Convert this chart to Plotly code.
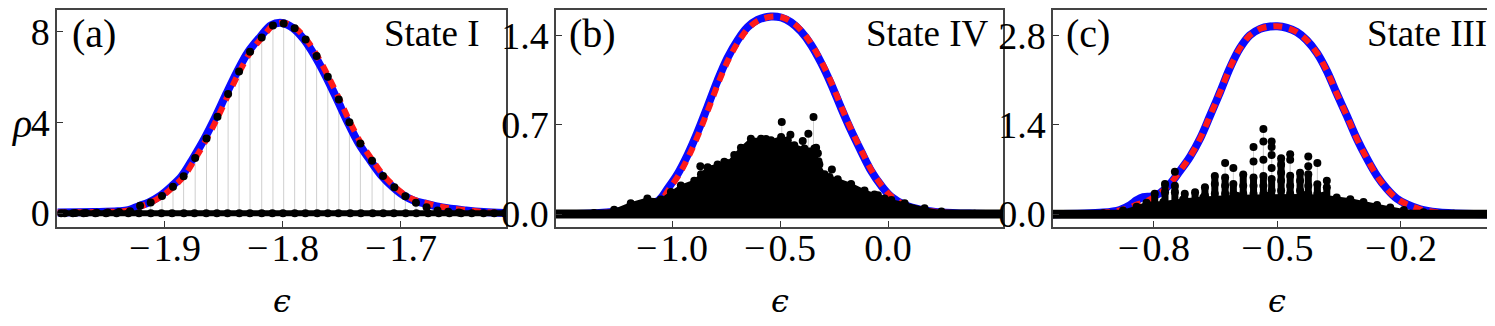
import plotly.graph_objects as go

# ---------------- panel (a) : State I ----------------
a_curve_x = [-1.991, -1.96, -1.94, -1.9311, -1.9226, -1.9136, -1.904, -1.8947, -1.8857, -1.8759, -1.8663,
             -1.857, -1.848, -1.8387, -1.8294, -1.8195, -1.81, -1.8009, -1.7916, -1.7823, -1.773, -1.7635,
             -1.7542, -1.7452, -1.7359, -1.726, -1.7167, -1.7071, -1.6978, -1.6888, -1.679, -1.665,
             -1.645, -1.63, -1.612]
a_curve_y = [0.03, 0.05, 0.08, 0.13, 0.3, 0.48, 0.77, 1.17, 1.64, 2.44, 3.3, 4.25, 5.25, 6.24, 7.1, 7.74,
             8.27, 8.37, 8.15, 7.65, 6.92, 6.01, 5.01, 4.01, 3.08, 2.32, 1.66, 1.16, 0.78, 0.55, 0.42,
             0.25, 0.12, 0.05, 0.01]
a_red_x = [-1.991, -1.958, -1.938, -1.9291, -1.9206, -1.9116, -1.902, -1.8927, -1.8837, -1.8739,
           -1.8643, -1.855, -1.846, -1.8367, -1.8274, -1.8175, -1.808, -1.7989, -1.7896, -1.7803,
           -1.771, -1.7615, -1.7522, -1.7432, -1.7339, -1.724, -1.7147, -1.7051, -1.6958, -1.6868,
           -1.677, -1.663, -1.643, -1.628, -1.612]
a_red_y = a_curve_y
a_dot_x = [-1.985, -1.976, -1.967, -1.9577, -1.9484, -1.9389, -1.9296, -1.9211, -1.9121, -1.9025, -1.8932,
           -1.8842, -1.8744, -1.8648, -1.8555, -1.8465, -1.8372, -1.8279, -1.818, -1.8085, -1.7994,
           -1.7901, -1.7808, -1.7715, -1.762, -1.7527, -1.7437, -1.7344, -1.7245, -1.7152, -1.7056,
           -1.6963, -1.6873, -1.6783, -1.669, -1.66, -1.651]
a_dot_y = [0.0, 0.01, 0.01, 0.02, 0.03, 0.05, 0.08, 0.33, 0.47, 0.76, 1.16, 1.63, 2.43, 3.29, 4.24, 5.24,
           6.23, 7.1, 7.73, 8.26, 8.34, 8.14, 7.64, 6.91, 6.0, 5.0, 4.0, 3.07, 2.31, 1.64, 1.14, 0.74,
           0.46, 0.26, 0.12, 0.06, 0.03]
a_zero_x = [-1.988, -1.978, -1.969, -1.959, -1.95, -1.941, -1.931, -1.922, -1.912, -1.903, -1.894,
            -1.884, -1.875, -1.865, -1.856, -1.847, -1.837, -1.828, -1.818, -1.809, -1.8, -1.79,
            -1.781, -1.771, -1.762, -1.753, -1.743, -1.734, -1.724, -1.715, -1.706, -1.696, -1.687,
            -1.677, -1.668, -1.659, -1.649, -1.64, -1.63, -1.621, -1.612]
a_range = [-1.99, -1.612]

# ---------------- panel (b) : State IV ----------------
b_curve_x = [-1.537, -1.376, -1.253, -1.145, -1.06, -1.021, -0.975, -0.928, -0.882, -0.835, -0.789,
             -0.743, -0.696, -0.65, -0.604, -0.542, -0.495, -0.449, -0.403, -0.356, -0.31, -0.264,
             -0.217, -0.171, -0.124, -0.078, -0.032, 0.015, 0.077, 0.154, 0.247, 0.401, 0.532]
b_curve_y = [0.0, 0.005, 0.02, 0.053, 0.109, 0.197, 0.311, 0.463, 0.64, 0.843, 1.046, 1.223, 1.362,
             1.463, 1.52, 1.547, 1.539, 1.501, 1.43, 1.324, 1.185, 1.02, 0.83, 0.653, 0.489, 0.337,
             0.223, 0.134, 0.071, 0.033, 0.013, 0.003, 0.0]
b_red_x = [-1.537, -1.37, -1.245, -1.136, -1.052, -1.013, -0.967, -0.92, -0.874, -0.827, -0.781,
           -0.735, -0.688, -0.642, -0.596, -0.534, -0.488, -0.443, -0.398, -0.352, -0.306, -0.26,
           -0.214, -0.168, -0.121, -0.075, -0.029, 0.018, 0.08, 0.157, 0.25, 0.404, 0.532]
b_red_y = b_curve_y
b_mass_x = [-1.534, -1.361, -1.268, -1.191, -1.114, -1.052, -1.005, -0.959, -0.897, -0.866, -0.835,
            -0.789, -0.743, -0.712, -0.681, -0.635, -0.588, -0.542, -0.495, -0.464, -0.434, -0.387,
            -0.341, -0.318, -0.294, -0.233, -0.171, -0.109, -0.047, 0.015, 0.077, 0.169, 0.247,
            0.401, 0.532]
b_mass_y = [0.0, 0.008, 0.033, 0.084, 0.122, 0.114, 0.172, 0.223, 0.261, 0.311, 0.367, 0.387, 0.4,
            0.463, 0.519, 0.59, 0.59, 0.577, 0.603, 0.577, 0.539, 0.514, 0.514, 0.387, 0.311, 0.273,
            0.235, 0.185, 0.147, 0.109, 0.084, 0.046, 0.02, 0.003, 0.0]
b_dot_x = [-0.869, -0.82, -0.758, -0.704, -0.681, -0.662, -0.627, -0.6, -0.565, -0.526, -0.492,
           -0.452, -0.395, -0.369, -0.345, -0.333, -0.325, -0.322, -0.271, -0.26, -0.063, -0.016]
b_dot_y = [0.375, 0.349, 0.41, 0.415, 0.448, 0.466, 0.509, 0.504, 0.587, 0.506, 0.721, 0.62, 0.572,
           0.628, 0.759, 0.519, 0.476, 0.413, 0.291, 0.349, 0.154, 0.122]
b_range = [-1.537, 0.532]

# ---------------- panel (c) : State III ----------------
c_curve_x = [-1.045, -0.923, -0.883, -0.858, -0.842, -0.826, -0.806, -0.785, -0.761, -0.737, -0.712,
             -0.688, -0.664, -0.639, -0.615, -0.591, -0.567, -0.542, -0.518, -0.5, -0.477, -0.453,
             -0.429, -0.404, -0.38, -0.356, -0.331, -0.307, -0.283, -0.258, -0.234, -0.21, -0.185,
             -0.153, -0.112, -0.047, 0.044]
c_curve_y = [0.0, 0.025, 0.066, 0.142, 0.218, 0.268, 0.278, 0.329, 0.471, 0.673, 0.901, 1.18, 1.534,
             1.914, 2.294, 2.597, 2.8, 2.901, 2.937, 2.942, 2.916, 2.851, 2.724, 2.522, 2.243, 1.889,
             1.534, 1.18, 0.876, 0.597, 0.395, 0.243, 0.152, 0.076, 0.03, 0.005, 0.0]
c_red_y = [0.0, 0.025, 0.06, 0.106, 0.15, 0.18, 0.243, 0.329, 0.471, 0.673, 0.901, 1.18, 1.534,
           1.914, 2.294, 2.597, 2.8, 2.901, 2.937, 2.942, 2.916, 2.851, 2.724, 2.522, 2.243, 1.889,
           1.534, 1.18, 0.876, 0.597, 0.395, 0.243, 0.152, 0.076, 0.03, 0.005, 0.0]
c_mass_x = [-1.045, -0.923, -0.875, -0.842, -0.818, -0.777, -0.729, -0.68, -0.599, -0.518, -0.437,
            -0.388, -0.356, -0.323, -0.291, -0.258, -0.226, -0.193, -0.145, -0.072, 0.044]
c_mass_y = [0.0, 0.015, 0.056, 0.117, 0.177, 0.192, 0.23, 0.26, 0.29, 0.3, 0.3, 0.29, 0.26,
            0.235, 0.19, 0.142, 0.106, 0.066, 0.03, 0.005, 0.0]
# columns of eigenstate weights: position, height of the densely packed part, and loose weights on top
c_col_x = [-0.798, -0.773, -0.749, -0.725, -0.7, -0.676, -0.652, -0.627, -0.607, -0.583, -0.558,
           -0.534, -0.514, -0.491, -0.469, -0.445, -0.425, -0.403, -0.38]
c_col_solid = [0.32, 0.47, 0.446, 0.32, 0.34, 0.446, 0.6, 0.57, 0.47, 0.62, 0.57, 0.6, 0.55, 0.85,
               0.6, 0.65, 0.62, 0.47, 0.42]
c_col_w = [[0.319], [0.471, 0.344], [0.663, 0.446, 0.344], [0.319], [0.344], [0.42, 0.294],
           [0.597, 0.471, 0.319], [0.8, 0.572, 0.446, 0.319], [0.724, 0.471, 0.319],
           [0.62, 0.446, 0.319], [1.053, 0.825, 0.572, 0.446, 0.319],
           [1.332, 1.139, 0.851, 0.597, 0.446, 0.319], [1.139, 1.053, 0.927, 0.724, 0.55, 0.37],
           [0.876, 0.775, 0.648, 0.522, 0.37], [0.937, 0.851, 0.6, 0.446, 0.319],
           [0.648, 0.522, 0.37], [0.901, 0.749, 0.623, 0.446, 0.319], [0.8, 0.47, 0.319],
           [0.522, 0.42]]
c_range = [-1.045, 0.044]

x_ticks = [[-1.9, -1.8, -1.7], [-1.0, -0.5, 0.0], [-0.8, -0.5, -0.2]]
x_ticktext = [["−\u200a1.9", "−\u200a1.8", "−\u200a1.7"], ["−\u200a1.0", "−\u200a0.5", "0.0"],
              ["−\u200a0.8", "−\u200a0.5", "−\u200a0.2"]]
y_ticks = [[0, 4, 8], [0.0, 0.7, 1.4], [0.0, 1.4, 2.8]]
y_ticktext = [["0", "4", "8"], ["0.0", "0.7", "1.4"], ["0.0", "1.4", "2.8"]]
x_ranges = [[-1.9915, -1.611], [-1.537, 0.532], [-1.045, 0.043]]
y_ranges = [[-0.6, 8.94], [-0.1, 1.598], [-0.198, 3.196]]
panel_tags = ["(a)", "(b)", "(c)"]
state_names = ["State I", "State IV", "State III"]

W, H = 1495, 326
frames_px = [(49, 498), (548, 995), (1045, 1493)]
top_px, bot_px = 1, 224

FONT = "Liberation Serif"
BLUE = "#0a0aff"
RED = "#ff1a1a"

fig = go.Figure()


def stems(xs, ys):
    sx, sy = [], []
    for x, y in zip(xs, ys):
        sx += [x, x, None]
        sy += [0, y, None]
    return sx, sy


def add_panel(k, curve_x, curve_y, red_x, red_y, base_range, base_width,
              mass_x=None, mass_y=None, dot_x=(), dot_y=(), solid=None):
    xa = "x" if k == 0 else f"x{k + 1}"
    ya = "y" if k == 0 else f"y{k + 1}"
    sx, sy = stems(dot_x, dot_y)
    fig.add_trace(go.Scatter(x=sx, y=sy, mode="lines", line=dict(color="#cfcfcf", width=1),
                             xaxis=xa, yaxis=ya, hoverinfo="skip"))
    fig.add_trace(go.Scatter(x=curve_x, y=curve_y, mode="lines", line=dict(color=BLUE, width=8, shape="spline"),
                             xaxis=xa, yaxis=ya))
    fig.add_trace(go.Scatter(x=red_x, y=red_y, mode="lines",
                             line=dict(color=RED, width=6, dash="9px,7px", shape="spline"),
                             xaxis=xa, yaxis=ya))
    if solid is not None:
        # densely packed lower part of each column of points
        qx, qy = stems(*solid)
        fig.add_trace(go.Scatter(x=qx, y=qy, mode="lines", line=dict(color="black", width=7),
                                 xaxis=xa, yaxis=ya))
    if mass_x is not None:
        fig.add_trace(go.Scatter(x=mass_x, y=mass_y, mode="lines+markers", fill="tozeroy",
                                 fillcolor="black", line=dict(color="black", width=2),
                                 marker=dict(color="black", size=8), xaxis=xa, yaxis=ya))
    fig.add_trace(go.Scatter(x=base_range, y=[0, 0], mode="lines", line=dict(color="black", width=base_width),
                             xaxis=xa, yaxis=ya))
    fig.add_trace(go.Scatter(x=list(dot_x), y=list(dot_y), mode="markers", marker=dict(color="black", size=8),
                             xaxis=xa, yaxis=ya))


add_panel(0, a_curve_x, a_curve_y, a_red_x, a_red_y, a_range, 6, dot_x=a_dot_x, dot_y=a_dot_y)
fig.add_trace(go.Scatter(x=a_zero_x, y=[0] * len(a_zero_x), mode="markers",
                         marker=dict(color="black", size=8)))
add_panel(1, b_curve_x, b_curve_y, b_red_x, b_red_y, b_range, 9, b_mass_x, b_mass_y, b_dot_x, b_dot_y)

cx, cy = [], []
for x, ws in zip(c_col_x, c_col_w):
    for w in ws:
        cx.append(x)
        cy.append(w)
add_panel(2, c_curve_x, c_curve_y, c_curve_x, c_red_y, c_range, 9, c_mass_x, c_mass_y, cx, cy,
          solid=(c_col_x, c_col_solid))

layout = dict(width=W, height=H, margin=dict(l=0, r=0, t=0, b=0), showlegend=False,
              plot_bgcolor="white", paper_bgcolor="white",
              font=dict(family=FONT, size=36, color="black"))
annotations = []
for k in range(3):
    sfx = "" if k == 0 else str(k + 1)
    l, r = frames_px[k]
    layout["xaxis" + sfx] = dict(domain=[l / W, r / W], range=x_ranges[k], anchor="y" + sfx,
                                 tickvals=x_ticks[k], ticktext=x_ticktext[k], ticks="inside", ticklen=6,
                                 tickcolor="#333", showgrid=False, zeroline=False, showline=True,
                                 linecolor="#444", linewidth=1.5, mirror=True, ticklabelstandoff=-13,
                                 tickfont=dict(family=FONT, size=38))
    layout["yaxis" + sfx] = dict(domain=[1 - bot_px / H, 1 - top_px / H], range=y_ranges[k],
                                 anchor="x" + sfx, tickvals=y_ticks[k], ticktext=y_ticktext[k],
                                 ticks="inside", ticklen=6, tickcolor="#333", showgrid=False,
                                 zeroline=False, showline=True, linecolor="#444", linewidth=1.5,
                                 mirror=True, ticklabelstandoff=-2, tickfont=dict(family=FONT, size=38))
    xd = "x domain" if k == 0 else f"x{k + 1} domain"
    yd = "y domain" if k == 0 else f"y{k + 1} domain"
    annotations.append(dict(text=panel_tags[k], xref=xd, yref=yd, x=(11 if k else 13) / (r - l), y=0.89,
                            xanchor="left", yanchor="middle", showarrow=False,
                            font=dict(family=FONT, size=40)))
    annotations.append(dict(text=state_names[k], xref=xd, yref=yd, x=1 - (24 if k == 0 else 12) / (r - l),
                            y=0.89, xanchor="right", yanchor="middle", showarrow=False,
                            font=dict(family=FONT, size=37)))
    annotations.append(dict(text="<i>ϵ</i>", xref=xd, yref="paper", x=0.5, y=1 - 300 / H,
                            xanchor="center", yanchor="middle", showarrow=False,
                            font=dict(family="DejaVu Serif", size=32)))
annotations.append(dict(text="<i>ρ</i>", xref="paper", yref="paper", x=13 / W, y=1 - 118 / H,
                        xanchor="center", yanchor="middle", showarrow=False, font=dict(family=FONT, size=40)))
layout["annotations"] = annotations
fig.update_layout(**layout)

fig.write_html("out.html")
